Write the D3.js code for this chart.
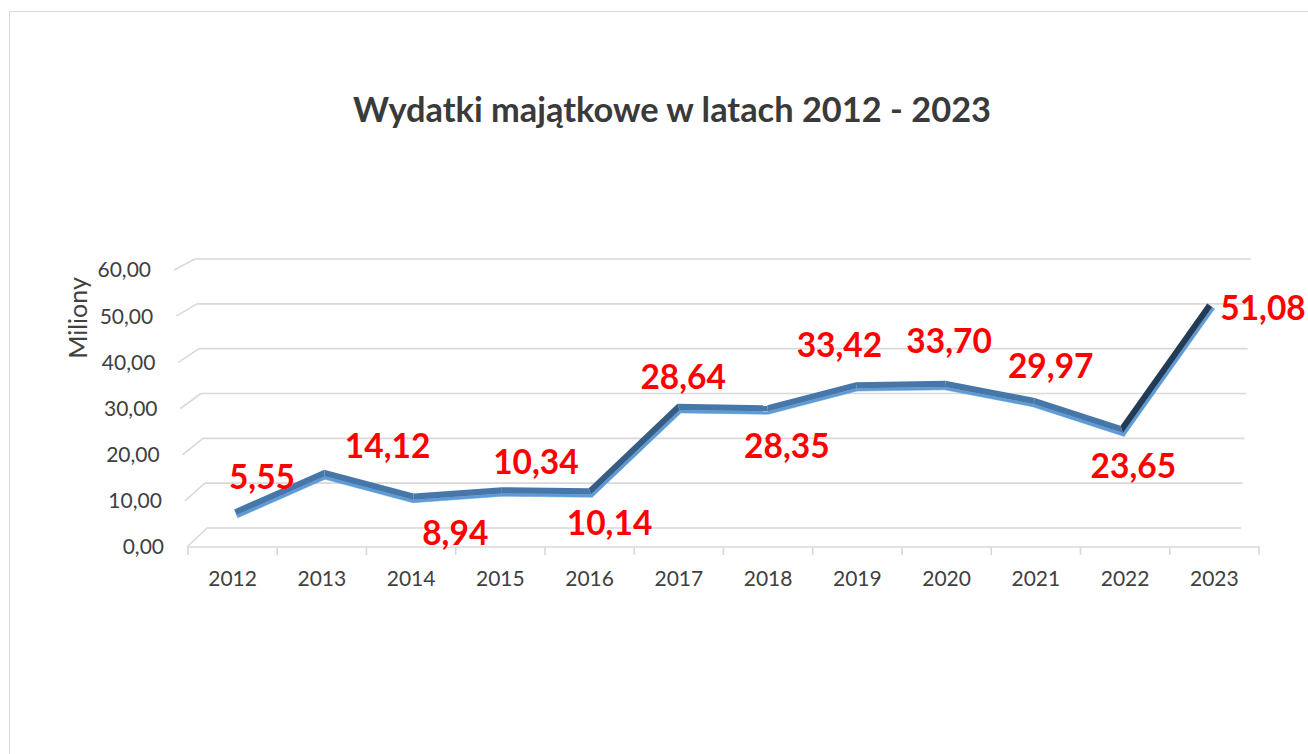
<!DOCTYPE html>
<html>
<head>
<meta charset="utf-8">
<script src="https://cdn.jsdelivr.net/npm/d3@7"></script>
<style>
  body { margin: 0; background: #ffffff; }
  svg { display: block; }
</style>
</head>
<body>
<div id="chart"></div>
<script>
const FRAME_WIDTH = 1308;
const FRAME_HEIGHT = 754;

// data
const years = ["2012", "2013", "2014", "2015", "2016", "2017", "2018", "2019", "2020", "2021", "2022", "2023"];
const values = [5.55, 14.12, 8.94, 10.34, 10.14, 28.64, 28.35, 33.42, 33.70, 29.97, 23.65, 51.08];
const yTicks = [0, 10, 20, 30, 40, 50, 60];
const title = "Wydatki majątkowe w latach 2012 - 2023";
const yTitle = "Miliony";

// layout: where each value label sits relative to its point
const labelOffsets = [[26, -36], [63, -28], [42, 35], [34, -30], [19, 30], [4, -31],
                      [19, 36], [-17, -41], [4, -44], [17, -36], [11, 35], [52, 2]];

const pl = d3.formatLocale({ decimal: ",", thousands: " ", grouping: [3], currency: ["", " zł"] });
const fmt = pl.format(".2f");

let svg = d3.select("#chart").append("svg")
  .attr("width", FRAME_WIDTH)
  .attr("height", FRAME_HEIGHT);

// chart border
svg.append("rect")
  .attr("x", 9.5).attr("y", 11.5)
  .attr("width", FRAME_WIDTH).attr("height", FRAME_HEIGHT)
  .attr("fill", "none")
  .attr("stroke", "#d9d9d9");

// 3d box scales (front plane, back wall, side edges)
const x = d3.scaleBand().domain(years).range([188, 1259]);
const yFront = d3.scaleLinear().domain([0, 60]).range([547, 270]);
const yBack = d3.scaleLinear().domain([0, 60]).range([528, 259]);
const xLeftFront = d3.scaleLinear().domain([0, 60]).range([187, 174]);
const xLeftBack = d3.scaleLinear().domain([0, 60]).range([207, 195]);
const xRightBack = d3.scaleLinear().domain([0, 60]).range([1241, 1251]);

// the ribbon sits a little into the depth of the box
const xLine = d3.scalePoint().domain(years).range([236, 1211]);
const yLine = d3.scaleLinear().domain([0, 60]).range([539, 265.6]);

let grid = svg.append("g").attr("class", "grid");

// back wall gridlines
grid.selectAll(".back")
  .data(yTicks)
  .enter()
  .append("line")
  .attr("x1", d => xLeftBack(d))
  .attr("x2", d => xRightBack(d))
  .attr("y1", d => yBack(d))
  .attr("y2", d => yBack(d))
  .attr("stroke", "#d9d9d9")
  .attr("stroke-width", 1.6);

// side wall diagonals
grid.selectAll(".side")
  .data(yTicks)
  .enter()
  .append("line")
  .attr("x1", d => xLeftFront(d))
  .attr("x2", d => xLeftBack(d))
  .attr("y1", d => yFront(d))
  .attr("y2", d => yBack(d))
  .attr("stroke", "#d9d9d9")
  .attr("stroke-width", 1.6);

// front x axis line + ticks between categories
grid.append("line")
  .attr("x1", xLeftFront(0)).attr("x2", x.range()[1] + 1)
  .attr("y1", yFront(0)).attr("y2", yFront(0))
  .attr("stroke", "#d9d9d9")
  .attr("stroke-width", 1.6);

let tickPos = years.map(d => x(d)).concat([x.range()[1]]);
grid.selectAll(".xtick")
  .data(tickPos)
  .enter()
  .append("line")
  .attr("x1", d => d).attr("x2", d => d)
  .attr("y1", yFront(0)).attr("y2", yFront(0) + 8)
  .attr("stroke", "#d9d9d9")
  .attr("stroke-width", 1.6);

// y tick labels along the front left edge
svg.selectAll(".ylab")
  .data(yTicks)
  .enter()
  .append("text")
  .attr("x", d => xLeftFront(d) - 23)
  .attr("y", d => yFront(d))
  .attr("dy", "0.35em")
  .attr("text-anchor", "end")
  .style("font-family", "Lato")
  .style("font-size", "21px")
  .style("fill", "#404040")
  .text(d => fmt(d));

// x labels
svg.selectAll(".xlab")
  .data(years)
  .enter()
  .append("text")
  .attr("x", d => x(d) + x.bandwidth() / 2)
  .attr("y", 579)
  .attr("dy", "0.35em")
  .attr("text-anchor", "middle")
  .style("font-family", "Lato")
  .style("font-size", "21px")
  .style("fill", "#404040")
  .text(d => d);

// y axis title
svg.append("text")
  .attr("transform", "translate(78," + 318 + ") rotate(-90)")
  .attr("dy", "0.35em")
  .attr("text-anchor", "middle")
  .style("font-family", "Lato")
  .style("font-size", "25px")
  .style("fill", "#404040")
  .text(yTitle);

// title
svg.append("text")
  .attr("x", 672)
  .attr("y", 110)
  .attr("dy", "0.35em")
  .attr("text-anchor", "middle")
  .style("font-family", "Lato")
  .style("font-weight", "bold")
  .style("font-size", "34.4px")
  .style("fill", "#3a3a3a")
  .text(title);

// ribbon: offset the line up/down with mitred joins
let pts = years.map((d, i) => [xLine(d), yLine(values[i])]);
let normals = [];
for (let k = 0; k < pts.length - 1; k++) {
  let dx = pts[k + 1][0] - pts[k][0], dy = pts[k + 1][1] - pts[k][1];
  let len = Math.hypot(dx, dy);
  normals.push([dy / len, -dx / len]); // points to the upper side
}
function offsetPt(i, h) {
  let n0 = normals[Math.max(0, i - 1)], n1 = normals[Math.min(normals.length - 1, i)];
  let mx = n0[0] + n1[0], my = n0[1] + n1[1];
  let ml = Math.hypot(mx, my);
  mx /= ml; my /= ml;
  let s = 1 / (mx * n1[0] + my * n1[1]);
  return [pts[i][0] + mx * s * h, pts[i][1] + my * s * h];
}

const TOP = 4.6, MID = -1.5, BOT = -4.4;
let steel = "#4777a9", navy = "#233c56", light = "#5d9bd6";
let segs = d3.range(pts.length - 1);

let ribbon = svg.append("g").attr("class", "ribbon");

ribbon.selectAll(".edge")
  .data(segs)
  .enter()
  .append("path")
  .attr("d", k => d3.line()([offsetPt(k, MID), offsetPt(k + 1, MID), offsetPt(k + 1, BOT), offsetPt(k, BOT)]) + "Z")
  .attr("fill", light)
  .attr("stroke", light)
  .attr("stroke-width", 0.5);

ribbon.selectAll(".face")
  .data(segs)
  .enter()
  .append("path")
  .attr("d", k => d3.line()([offsetPt(k, TOP), offsetPt(k + 1, TOP), offsetPt(k + 1, MID), offsetPt(k, MID)]) + "Z")
  .attr("fill", k => {
    let dx = pts[k + 1][0] - pts[k][0], dy = pts[k][1] - pts[k + 1][1];
    let ang = Math.atan2(dy, dx) * 180 / Math.PI;
    let t = Math.pow(Math.max(0, Math.min(1, (ang - 25) / 28)), 2);
    return d3.interpolateRgb(steel, navy)(t);
  });

// value labels
svg.selectAll(".vlab")
  .data(values)
  .enter()
  .append("text")
  .attr("x", (d, i) => pts[i][0] + labelOffsets[i][0])
  .attr("y", (d, i) => pts[i][1] + labelOffsets[i][1])
  .attr("dy", "0.35em")
  .attr("text-anchor", "middle")
  .style("font-family", "Lato")
  .style("font-weight", "bold")
  .style("font-size", "33.5px")
  .style("fill", "#ff0000")
  .text(d => fmt(d));
</script>
</body>
</html>
